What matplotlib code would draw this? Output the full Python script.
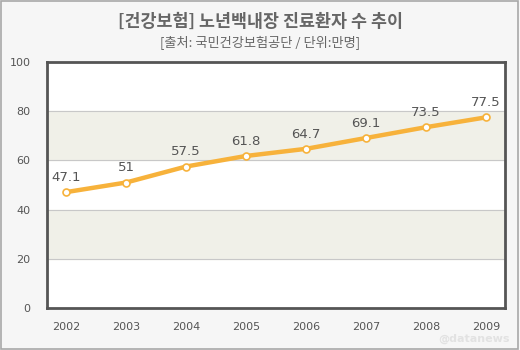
import matplotlib
matplotlib.use('Agg')
import matplotlib.pyplot as plt
from matplotlib.patches import Rectangle

plt.rcParams['font.family'] = ['Noto Sans CJK KR', 'DejaVu Sans']

years = ['2002', '2003', '2004', '2005', '2006', '2007', '2008', '2009']
patients = [47.1, 51, 57.5, 61.8, 64.7, 69.1, 73.5, 77.5]
labels = ['47.1', '51', '57.5', '61.8', '64.7', '69.1', '73.5', '77.5']
yticks = [0, 20, 40, 60, 80, 100]

title = '[건강보험] 노년백내장 진료환자 수 추이'
subtitle = '[출처: 국민건강보험공단 / 단위:만명]'

fig = plt.figure(figsize=(5.2, 3.5), dpi=100)
fig.patch.set_facecolor('#f6f6f6')
# outer frame
fig.add_artist(Rectangle((0.002, 0.003), 0.995, 0.993, transform=fig.transFigure,
                         fill=False, edgecolor='#a8a8a8', linewidth=1.2))

ax = fig.add_axes([47 / 520, 1 - 308 / 350, 458 / 520, 246 / 350])
ax.set_facecolor('white')

# alternating bands
for lo in (20, 60):
    ax.axhspan(lo, lo + 20, color='#f0f0e8', zorder=0)
for y in (20, 40, 60, 80):
    ax.axhline(y, color='#c8c8c8', linewidth=0.8, zorder=1)

x = list(range(len(years)))
ax.plot(x, patients, color='#f7b23b', linewidth=3.2, zorder=3,
        marker='o', markersize=5, markerfacecolor='white',
        markeredgecolor='#f7b23b', markeredgewidth=1.2)

for xi, v, lab in zip(x, patients, labels):
    ax.annotate(lab, (xi, v), xytext=(0, 6), textcoords='offset points',
                ha='center', va='bottom', fontsize=9.5, color='#555555',
                family='DejaVu Sans', zorder=4)

ax.set_xlim(-0.317, len(years) - 1 + 0.317)
ax.set_ylim(0, 100)
ax.set_yticks(yticks)
ax.set_xticks(x)
ax.set_xticklabels(years)
ax.tick_params(axis='both', length=0, labelsize=8, labelcolor='#555555')
ax.tick_params(axis='y', pad=12)
ax.tick_params(axis='x', pad=10)
for lab in ax.get_xticklabels() + ax.get_yticklabels():
    lab.set_family('DejaVu Sans')
for s in ax.spines.values():
    s.set_color('#555555')
    s.set_linewidth(2)

fig.text(0.5, 1 - 22 / 350, title, ha='center', va='center',
         fontsize=12.5, color='#666666', fontweight='bold')
fig.text(0.5, 1 - 43 / 350, subtitle, ha='center', va='center',
         fontsize=9.5, color='#666666')
fig.text(510 / 520, 1 - 339 / 350, '@datanews', ha='right', va='center',
         fontsize=8, color='#e2e2e2', family='DejaVu Sans', fontweight='bold')

fig.savefig('out.png', dpi=100, facecolor=fig.get_facecolor())
